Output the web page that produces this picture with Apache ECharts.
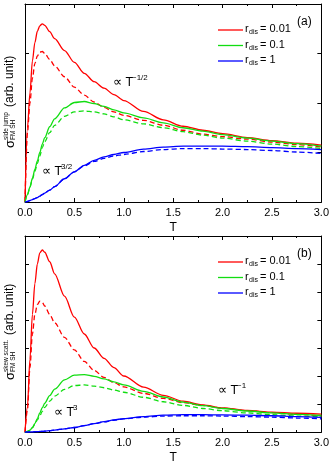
<!DOCTYPE html>
<html lang="en">
  <head>
    <meta charset="UTF-8" />
    <title>Spin Hall conductivity vs T</title>
    <style>
      * { margin: 0; padding: 0; box-sizing: border-box; }
      #main { width: 332px; height: 465px; background: #fff; }
    </style>
  </head>
  <body>
    <div id="main"></div>
    <script src="https://cdn.jsdelivr.net/npm/echarts@6/dist/echarts.min.js"></script>
    <script>
      const myChart = echarts.init(document.getElementById("main"));

      // temperature grid shared by all curves
      const T = [0, 0.025, 0.05, 0.075, 0.1, 0.125, 0.15, 0.175, 0.2, 0.25, 0.3, 0.4, 0.5,
        0.6, 0.7, 0.8, 0.9, 1.0, 1.2, 1.4, 1.6, 1.8, 2.0, 2.25, 2.5, 2.75, 3.0];

      // (a) side jump, in tick units (axis 0..4)
      const aRed = [0, 1.5, 2.2, 2.85, 3.22, 3.45, 3.56, 3.6, 3.57, 3.44, 3.3, 3.06, 2.82,
        2.6, 2.43, 2.3, 2.17, 2.05, 1.83, 1.66, 1.53, 1.45, 1.38, 1.3, 1.24, 1.19, 1.15];
      const aRedD = [0, 1.4, 2.0, 2.5, 2.8, 2.95, 3.03, 3.04, 3.0, 2.88, 2.75, 2.53, 2.32,
        2.16, 2.02, 1.91, 1.82, 1.75, 1.65, 1.55, 1.45, 1.37, 1.32, 1.27, 1.21, 1.16, 1.11];
      const aGreen = [0, 0.15, 0.3, 0.48, 0.66, 0.83, 1.0, 1.17, 1.3, 1.52, 1.68, 1.9, 2.01,
        2.03, 1.99, 1.93, 1.86, 1.8, 1.7, 1.6, 1.5, 1.43, 1.36, 1.29, 1.23, 1.18, 1.13];
      const aGreenD = [0, 0.15, 0.3, 0.46, 0.62, 0.78, 0.93, 1.1, 1.22, 1.4, 1.55, 1.73, 1.82,
        1.84, 1.82, 1.78, 1.72, 1.66, 1.58, 1.5, 1.42, 1.35, 1.29, 1.23, 1.17, 1.12, 1.08];
      const aBlue = [0, 0.01, 0.03, 0.05, 0.07, 0.09, 0.12, 0.15, 0.18, 0.24, 0.31, 0.47, 0.61,
        0.74, 0.84, 0.91, 0.96, 1.0, 1.07, 1.11, 1.13, 1.13, 1.13, 1.12, 1.1, 1.08, 1.06];
      const aBlueD = [0, 0.01, 0.03, 0.05, 0.07, 0.09, 0.12, 0.15, 0.18, 0.24, 0.31, 0.47, 0.61,
        0.73, 0.82, 0.88, 0.93, 0.96, 1.02, 1.06, 1.08, 1.08, 1.07, 1.06, 1.04, 1.01, 0.98];

      // (b) skew scattering, in tick units (axis 0..7)
      const bRed = [0, 0.9, 2.6, 4.2, 5.3, 6.0, 6.4, 6.5, 6.42, 6.08, 5.65, 4.85, 4.1,
        3.5, 3.0, 2.63, 2.3, 2.0, 1.6, 1.31, 1.1, 0.97, 0.86, 0.77, 0.71, 0.67, 0.64];
      const bRedD = [0, 0.8, 2.3, 3.5, 4.2, 4.55, 4.67, 4.63, 4.5, 4.2, 3.9, 3.38, 2.93,
        2.52, 2.2, 1.95, 1.76, 1.61, 1.38, 1.2, 1.05, 0.95, 0.85, 0.76, 0.69, 0.63, 0.57];
      const bGreen = [0, 0.02, 0.07, 0.16, 0.3, 0.48, 0.68, 0.87, 1.03, 1.3, 1.53, 1.86, 2.03,
        2.05, 1.99, 1.9, 1.79, 1.68, 1.45, 1.25, 1.07, 0.94, 0.84, 0.75, 0.68, 0.63, 0.59];
      const bGreenD = [0, 0.02, 0.06, 0.15, 0.28, 0.43, 0.58, 0.74, 0.88, 1.1, 1.28, 1.52, 1.66,
        1.68, 1.64, 1.58, 1.5, 1.42, 1.24, 1.08, 0.95, 0.84, 0.76, 0.68, 0.62, 0.57, 0.54];
      const bBlue = [0, 0, 0, 0, 0.01, 0.01, 0.02, 0.02, 0.03, 0.05, 0.07, 0.11, 0.16,
        0.23, 0.3, 0.37, 0.43, 0.48, 0.55, 0.6, 0.62, 0.62, 0.61, 0.6, 0.58, 0.55, 0.52];
      const bBlueD = [0, 0, 0, 0, 0.01, 0.01, 0.02, 0.02, 0.03, 0.05, 0.07, 0.11, 0.16,
        0.23, 0.3, 0.36, 0.42, 0.47, 0.53, 0.57, 0.58, 0.58, 0.57, 0.55, 0.53, 0.5, 0.47];

      const rdis = ["0.01", "0.1", "1"];
      const colors = ["#ff0000", "#11dd11", "#0000ff"];

      const FONT = "Liberation Sans, Arial, sans-serif";

      function xAx(grid, top) {
        return {
          type: "value", gridIndex: grid, min: 0, max: 3, interval: 0.5,
          position: top ? "top" : "bottom",
          name: top ? "" : "T", nameLocation: "middle", nameGap: 20,
          nameTextStyle: { color: "#000", fontSize: 12, fontFamily: FONT },
          axisLine: { show: true, onZero: false, lineStyle: { color: "#000", width: 1 } },
          axisTick: { show: true, inside: true, length: 4, lineStyle: { color: "#000" } },
          minorTick: { show: true, splitNumber: 2, length: 2, lineStyle: { color: "#000" } },
          axisLabel: { show: !top, color: "#000", fontSize: 11, fontFamily: FONT, margin: 5,
            formatter: (v) => v.toFixed(1) },
          splitLine: { show: false },
        };
      }
      function yAx(grid, right, max) {
        return {
          type: "value", gridIndex: grid, min: 0, max: max, interval: 1,
          position: right ? "right" : "left",
          axisLine: { show: true, onZero: false, lineStyle: { color: "#000", width: 1 } },
          axisTick: { show: true, inside: true, length: 4, lineStyle: { color: "#000" } },
          axisLabel: { show: false },
          splitLine: { show: false },
        };
      }

      function line(vals, color, dashed, xi, yi) {
        return {
          type: "line", xAxisIndex: xi, yAxisIndex: yi,
          data: T.map((t, i) => [t, vals[i]]),
          showSymbol: false, smooth: 0.3, smoothMonotone: "x",
          lineStyle: { color: color, width: 1.3, type: dashed ? [5, 3] : "solid" },
          z: dashed ? 2 : 3, silent: true,
        };
      }

      const series = [
        line(aRed, colors[0], false, 0, 0), line(aRedD, colors[0], true, 0, 0),
        line(aGreen, colors[1], false, 0, 0), line(aGreenD, colors[1], true, 0, 0),
        line(aBlue, colors[2], false, 0, 0), line(aBlueD, colors[2], true, 0, 0),
        line(bRed, colors[0], false, 2, 2), line(bRedD, colors[0], true, 2, 2),
        line(bGreen, colors[1], false, 2, 2), line(bGreenD, colors[1], true, 2, 2),
        line(bBlue, colors[2], false, 2, 2), line(bBlueD, colors[2], true, 2, 2),
      ];

      function txt(x, y, s, size, extra) {
        return Object.assign({
          type: "text", x: x, y: y,
          style: { text: s, fill: "#000", font: size + "px " + FONT, verticalAlign: "middle" },
        }, extra || {});
      }

      // legend block: coloured line + r_dis = value
      function legend(y0) {
        const out = [];
        rdis.forEach((r, i) => {
          const y = y0 + i * 15.5;
          out.push({ type: "line", shape: { x1: 218, y1: y, x2: 243, y2: y },
            style: { stroke: colors[i], lineWidth: 1.3 } });
          out.push(txt(245, y - 1, "r", 11));
          out.push(txt(249, y + 2.5, "dis", 7));
          out.push(txt(260, y - 1, "= " + r, 11));
        });
        return out;
      }

      // rotated y-axis title: sigma with stacked super/subscript
      function ytitle(x, y, sup, gap) {
        return {
          type: "group", x: x, y: y, rotation: Math.PI / 2,
          children: [
            txt(0, 0, "σ", 13),
            txt(8, -3.5, sup, 6.5),
            txt(8, 3.5, "FM SH", 6.5),
            txt(gap, 0, "(arb. unit)", 12),
          ],
        };
      }

      const graphic = [
        ytitle(10, 148, "side jump", 41),
        ytitle(10, 380, "skew scatt.", 45),
        txt(297, 22, "(a)", 12),
        txt(297, 254, "(b)", 12),
        ...legend(30),
        ...legend(262),
        txt(113, 83, "∝ T", 12.5), txt(132, 78, "−1/2", 8),
        txt(42, 172, "∝ T", 12.5), txt(61, 167, "3/2", 8),
        txt(218, 391, "∝ T", 12.5), txt(237, 386, "−1", 8),
        txt(54, 413, "∝ T", 12.5), txt(73, 408, "3", 8),
      ];

      const option = {
        animation: false,
        backgroundColor: "#fff",
        grid: [
          { left: 25, right: 10, top: 4, height: 198 },
          { left: 25, right: 10, top: 236, height: 198 },
        ],
        xAxis: [xAx(0, false), xAx(0, true), xAx(1, false), xAx(1, true)],
        yAxis: [yAx(0, false, 4), yAx(0, true, 4), yAx(1, false, 7), yAx(1, true, 7)],
        series: series,
        graphic: graphic,
      };
      myChart.setOption(option);
    </script>
  </body>
</html>
